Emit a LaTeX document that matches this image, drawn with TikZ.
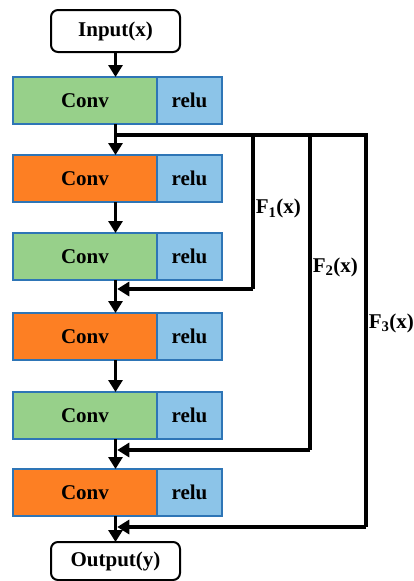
\documentclass[tikz,border=0pt]{standalone}
\usepackage{fontspec}
\setmainfont{Liberation Serif}
\usepackage{tikz}
\usetikzlibrary{arrows.meta, positioning, calc}
\usepackage{xcolor}
\definecolor{convgreen}{RGB}{151,208,138}
\definecolor{convorange}{RGB}{253,127,35}
\definecolor{relublue}{RGB}{140,196,232}
\definecolor{edgeblue}{RGB}{46,117,182}

\begin{document}
\begin{tikzpicture}[x=1pt, y=-1pt,
    every node/.style={font=\fontsize{21}{24}\selectfont\bfseries},
    convbox/.style={draw=edgeblue, line width=1.6pt, outer sep=0pt, minimum width=144pt, minimum height=47pt, inner sep=0pt},
    relubox/.style={draw=edgeblue, line width=1.6pt, outer sep=0pt, fill=relublue, minimum width=65pt, minimum height=47pt, inner sep=0pt},
    iobox/.style={draw, line width=2pt, outer sep=0pt, rounded corners=7pt, minimum width=129pt, inner sep=0pt},
    link/.style={line width=3.5pt},
    arr/.style={line width=3.5pt, -{Triangle[length=12pt, width=14pt]}}]
  \useasboundingbox (0,0) rectangle (414,581);

  % input
  \node[iobox, minimum height=42pt] (in) at (115.5,31) {Input(x)};

  % conv + relu blocks
  \node[convbox, fill=convgreen, anchor=north west] (c1) at (13,77) {Conv};
  \node[relubox, right=0pt of c1] (r1) {relu};
  \node[convbox, fill=convorange, below=31pt of c1] (c2) {Conv};
  \node[relubox, right=0pt of c2] (r2) {relu};
  \node[convbox, fill=convgreen, below=31pt of c2] (c3) {Conv};
  \node[relubox, right=0pt of c3] (r3) {relu};
  \node[convbox, fill=convorange, below=33pt of c3] (c4) {Conv};
  \node[relubox, right=0pt of c4] (r4) {relu};
  \node[convbox, fill=convgreen, below=32pt of c4] (c5) {Conv};
  \node[relubox, right=0pt of c5] (r5) {relu};
  \node[convbox, fill=convorange, below=30pt of c5] (c6) {Conv};
  \node[relubox, right=0pt of c6] (r6) {relu};

  % output
  \coordinate (c6b) at (c6.south -| in);
  \node[iobox, minimum height=38pt, below=26pt of c6b] (out) {Output(y)};

  % split and merge points
  \coordinate (s) at ($(c1.south -| in)+(0,11)$);
  \coordinate (m1) at ($(c3.south -| in)+(0,9)$);
  \coordinate (m2) at ($(c5.south -| in)+(0,11)$);
  \coordinate (m3) at ($(c6.south -| in)+(0,11)$);
  \coordinate (x1) at (253,0);
  \coordinate (x2) at (310,0);
  \coordinate (x3) at (366,0);

  % main flow
  \draw[arr] (in) -- (in |- c1.north);
  \draw[arr] (c1.south -| in) -- (c2.north -| in);
  \draw[arr] (c2.south -| in) -- (c3.north -| in);
  \draw[arr] (c3.south -| in) -- (c4.north -| in);
  \draw[arr] (c4.south -| in) -- (c5.north -| in);
  \draw[arr] (c5.south -| in) -- (c6.north -| in);
  \draw[arr] (c6.south -| in) -- (out);

  % skip connections
  \draw[link] (s) -| node[pos=0.74, right, inner sep=1pt] {F\textsubscript{1}(x)} (x1 |- m1);
  \draw[arr] (x1 |- m1) -- ($(m1)+(1.75,0)$);
  \draw[link] (s) -| node[pos=0.71, right, inner sep=1pt] {F\textsubscript{2}(x)} (x2 |- m2);
  \draw[arr] (x2 |- m2) -- ($(m2)+(1.75,0)$);
  \draw[link] (s) -| node[pos=0.74, right, inner sep=1pt] {F\textsubscript{3}(x)} (x3 |- m3);
  \draw[arr] (x3 |- m3) -- ($(m3)+(1.75,0)$);
\end{tikzpicture}
\end{document}
